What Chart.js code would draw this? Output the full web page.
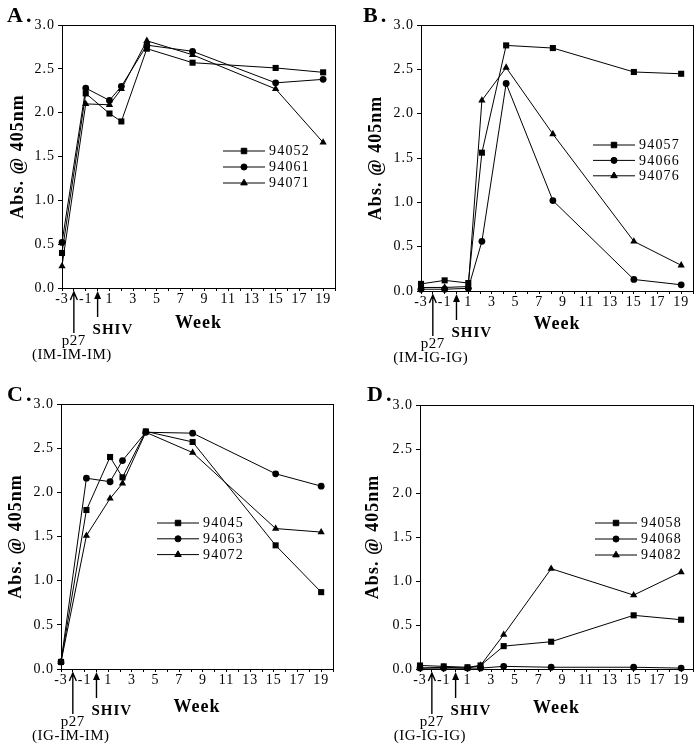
<!DOCTYPE html>
<html>
<head>
<meta charset="utf-8">
<script src="https://cdn.jsdelivr.net/npm/chart.js@4/dist/chart.umd.min.js"></script>
<style>
  html, body { margin: 0; padding: 0; background: #fff; }
  #wrap { position: relative; width: 699px; height: 752px; }
  canvas { position: absolute; }
</style>
</head>
<body>
<div id="wrap">
  <canvas id="chartA" width="350" height="376" style="left:0;top:0"></canvas>
  <canvas id="chartB" width="349" height="376" style="left:350px;top:0"></canvas>
  <canvas id="chartC" width="350" height="376" style="left:0;top:376px"></canvas>
  <canvas id="chartD" width="349" height="376" style="left:350px;top:376px"></canvas>
</div>
<script>
// week values and absorbance
const weeksA = [-3, -1, 1, 2, 4.15, 8, 15, 19];
const labelsA = ['94052', '94061', '94071'];
const a94052 = [0.40, 2.22, 1.99, 1.90, 2.73, 2.57, 2.51, 2.46];
const a94061 = [0.52, 2.28, 2.14, 2.30, 2.77, 2.70, 2.34, 2.38];
const a94071 = [0.25, 2.10, 2.09, 2.27, 2.82, 2.66, 2.27, 1.66];

const weeksB = [-3, -1, 1, 2.15, 4.2, 8.15, 15, 19];
const labelsB = ['94057', '94066', '94076'];
const b94057 = [0.08, 0.12, 0.09, 1.56, 2.77, 2.74, 2.47, 2.45];
const b94066 = [0.02, 0.02, 0.03, 0.56, 2.34, 1.02, 0.13, 0.07];
const b94076 = [0.04, 0.04, 0.05, 2.15, 2.52, 1.77, 0.56, 0.29];

const weeksC = [-3, -0.85, 1.15, 2.2, 4.17, 8.13, 15.15, 19];
const labelsC = ['94045', '94063', '94072'];
const c94045 = [0.08, 1.80, 2.40, 2.17, 2.69, 2.57, 1.40, 0.87];
const c94063 = [0.08, 2.16, 2.12, 2.36, 2.68, 2.67, 2.21, 2.07];
const c94072 = [0.08, 1.51, 1.93, 2.10, 2.68, 2.45, 1.59, 1.55];

const weeksD = [-3, -1, 1, 2.1, 4.05, 8.05, 15, 19];
const labelsD = ['94058', '94068', '94082'];
const d94058 = [0.04, 0.03, 0.02, 0.04, 0.26, 0.31, 0.61, 0.56];
const d94068 = [0.01, 0.01, 0.01, 0.01, 0.03, 0.02, 0.02, 0.01];
const d94082 = [0.01, 0.02, 0.01, 0.04, 0.39, 1.14, 0.84, 1.10];

const yTicks = [0, 0.5, 1.0, 1.5, 2.0, 2.5, 3.0];
const xMin = -3, xMax = 20;
const p27Week = -2, shivWeek = 0;

const SERIF = '"Liberation Serif", "Times New Roman", serif';
Chart.defaults.font.family = SERIF;
Chart.defaults.font.size = 14;
Chart.defaults.color = '#000';

const markers = [
  { pointStyle: 'rect', radius: 4.3 },
  { pointStyle: 'circle', radius: 3.4 },
  { pointStyle: 'triangle', radius: 4.2 }
];

function drawMarker(ctx, m, x, y) {
  if (Chart.helpers && Chart.helpers.drawPoint) {
    Chart.helpers.drawPoint(ctx, { pointStyle: m.pointStyle, radius: m.radius, rotation: 0, borderWidth: 1 }, x, y);
    return;
  }
  ctx.beginPath();
  ctx.arc(x, y, m.radius, 0, Math.PI * 2);
  ctx.fill();
}

// the scanned figure has loosely spaced type
const spacing = {
  id: 'spacing',
  beforeDraw(chart) { chart.ctx.letterSpacing = '1px'; }
};

const panelDecor = {
  id: 'panelDecor',
  afterDraw(chart, args, o) {
    const { ctx, chartArea: a } = chart;
    const x = chart.scales.x;
    ctx.save();
    ctx.strokeStyle = '#000';
    ctx.fillStyle = '#000';
    ctx.lineWidth = 1;
    ctx.strokeRect(Math.round(a.left) + 0.5, Math.round(a.top) + 0.5,
      Math.round(a.right - a.left), Math.round(a.bottom - a.top));

    // panel letter
    ctx.font = 'bold 22px ' + SERIF;
    ctx.letterSpacing = '3px';
    ctx.textAlign = 'left';
    ctx.textBaseline = 'alphabetic';
    ctx.fillText(o.letter, o.letterX, o.letterY);

    // legend
    ctx.font = '14px ' + SERIF;
    ctx.letterSpacing = '1.2px';
    ctx.textBaseline = 'middle';
    chart.data.datasets.forEach((ds, i) => {
      const ly = o.legendY + i * o.legendDy;
      ctx.beginPath();
      ctx.moveTo(o.legendX, ly);
      ctx.lineTo(o.legendX + 42, ly);
      ctx.stroke();
      drawMarker(ctx, { pointStyle: ds.pointStyle, radius: ds.pointRadius * 0.9 }, o.legendX + 21, ly);
      ctx.fillText(ds.label, o.legendX + 46, ly + 0.5);
    });

    // immunization arrows
    const base = a.bottom;
    const px = x.getPixelForValue(p27Week);
    const sx = x.getPixelForValue(shivWeek);
    ctx.lineWidth = 1.4;
    ctx.beginPath();
    ctx.moveTo(px, base + 4);
    ctx.lineTo(px, base + 45);
    ctx.moveTo(px - 3.5, base + 12);
    ctx.lineTo(px, base + 4);
    ctx.lineTo(px + 3.5, base + 12);
    ctx.stroke();

    ctx.beginPath();
    ctx.moveTo(sx, base + 8);
    ctx.lineTo(sx, base + 29);
    ctx.stroke();
    ctx.beginPath();
    ctx.moveTo(sx, base + 3);
    ctx.lineTo(sx - 3.5, base + 11);
    ctx.lineTo(sx + 3.5, base + 11);
    ctx.closePath();
    ctx.fill();

    ctx.textBaseline = 'middle';
    ctx.textAlign = 'center';
    ctx.font = '15px ' + SERIF;
    ctx.letterSpacing = '0.5px';
    ctx.fillText('p27', px, base + 53);
    ctx.fillText(o.group, px - 2, base + 67);

    ctx.textAlign = 'left';
    ctx.font = 'bold 15px ' + SERIF;
    ctx.letterSpacing = '1px';
    ctx.fillText('SHIV', sx - 5, base + 42);
    ctx.restore();
    ctx.letterSpacing = '0px';
  }
};

function makePanel(id, weeks, labels, seriesList, p) {
  const canvas = document.getElementById(id);
  const W = canvas.width, H = canvas.height;
  const datasets = seriesList.map((vals, i) => ({
    label: labels[i],
    data: weeks.map((w, j) => ({ x: w, y: vals[j] })),
    borderColor: '#000',
    backgroundColor: '#000',
    borderWidth: 1,
    pointStyle: markers[i].pointStyle,
    pointRadius: markers[i].radius,
    pointBorderWidth: 0,
    tension: 0,
    clip: false
  }));
  return new Chart(canvas, {
    type: 'line',
    data: { datasets: datasets },
    options: {
      responsive: false,
      animation: false,
      events: [],
      layout: { padding: { left: 0, top: p.area.top, right: W - p.area.right, bottom: 0 } },
      plugins: {
        legend: { display: false },
        tooltip: { enabled: false },
        panelDecor: p
      },
      scales: {
        x: {
          type: 'linear',
          min: xMin,
          max: xMax,
          afterFit: (s) => { s.height = H - p.area.bottom; },
          grid: { drawOnChartArea: false, drawTicks: true, tickLength: 3, color: '#000' },
          border: { display: true, color: '#000', width: 1 },
          ticks: {
            stepSize: 1,
            autoSkip: false,
            maxRotation: 0,
            padding: 0,
            font: { size: 14 },
            callback: (v) => (Math.abs(v) % 2 === 1 ? String(v) : '')
          },
          title: {
            display: true,
            text: 'Week',
            font: { size: 18, weight: 'bold' },
            padding: { top: 0, bottom: p.xTitlePad }
          }
        },
        y: {
          min: 0,
          max: 3,
          afterFit: (s) => { s.width = p.area.left; },
          afterBuildTicks: (s) => { s.ticks = yTicks.map(v => ({ value: v })); },
          grid: { drawOnChartArea: false, drawTicks: true, tickLength: 4, color: '#000' },
          border: { display: true, color: '#000', width: 1 },
          ticks: {
            padding: 3,
            font: { size: 14 },
            callback: (v) => Number(v).toFixed(1)
          },
          title: {
            display: true,
            text: 'Abs. @ 405nm',
            font: { size: 18, weight: 'bold' },
            padding: { top: p.yTitlePad, bottom: 0 }
          }
        }
      }
    },
    plugins: [spacing, panelDecor]
  });
}

makePanel('chartA', weeksA, labelsA, [a94052, a94061, a94071], {
  area: { left: 62, right: 335, top: 25, bottom: 288 },
  yTitlePad: 8, xTitlePad: 42,
  letter: 'A.', letterX: 7, letterY: 22, group: '(IM-IM-IM)',
  legendX: 223, legendY: 151, legendDy: 16
});
makePanel('chartB', weeksB, labelsB, [b94057, b94066, b94076], {
  area: { left: 71, right: 343, top: 25, bottom: 291 },
  yTitlePad: 16, xTitlePad: 41,
  letter: 'B.', letterX: 13, letterY: 22, group: '(IM-IG-IG)',
  legendX: 243, legendY: 145, legendDy: 15.4
});
makePanel('chartC', weeksC, labelsC, [c94045, c94063, c94072], {
  area: { left: 61, right: 333, top: 28, bottom: 293 },
  yTitlePad: 6, xTitlePad: 34,
  letter: 'C.', letterX: 7, letterY: 25, group: '(IG-IM-IM)',
  legendX: 157, legendY: 147, legendDy: 15.8
});
makePanel('chartD', weeksD, labelsD, [d94058, d94068, d94082], {
  area: { left: 70, right: 343, top: 29, bottom: 293 },
  yTitlePad: 13, xTitlePad: 33,
  letter: 'D.', letterX: 17, letterY: 25, group: '(IG-IG-IG)',
  legendX: 245, legendY: 147, legendDy: 16
});
</script>
</body>
</html>
